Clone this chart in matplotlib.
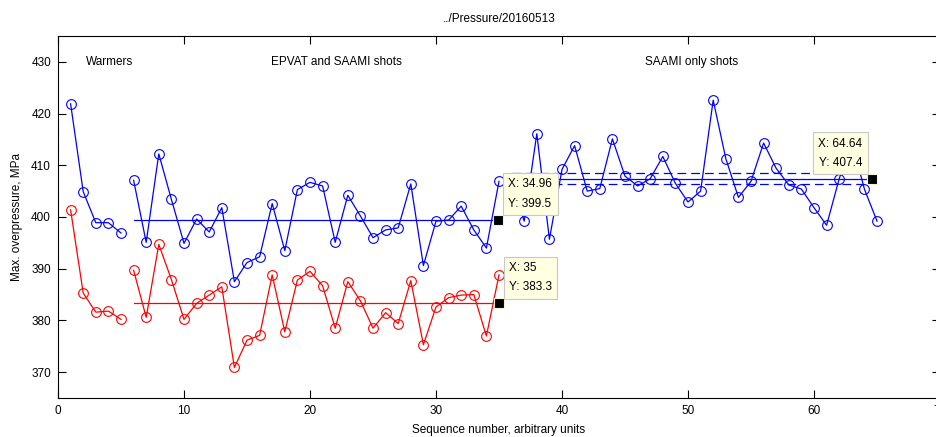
import numpy as np
import matplotlib
matplotlib.use("Agg")
import matplotlib.pyplot as plt

plt.rcParams['font.family'] = ['Liberation Sans Narrow', 'Liberation Sans', 'DejaVu Sans']

# warm-up shots
warm_x = [1, 2, 3, 4, 5]
warm_blue = [421.9, 404.9, 398.9, 398.9, 396.9]
warm_red = [401.4, 385.3, 381.6, 381.8, 380.2]

# EPVAT and SAAMI shots
epvat_x = list(range(6, 36))
epvat_blue = [407.1, 395.1, 412.2, 403.4, 394.9, 399.6, 397.1, 401.8, 387.5, 391.2,
              392.3, 402.6, 393.5, 405.3, 406.7, 406.0, 395.1, 404.2, 400.2, 396.0,
              397.5, 397.9, 406.4, 390.6, 399.2, 399.4, 402.1, 397.5, 394.0, 406.9]
epvat_red = [389.7, 380.6, 394.7, 387.9, 380.2, 383.3, 384.9, 386.5, 370.9, 376.2,
             377.1, 388.8, 377.8, 387.8, 389.5, 386.7, 378.5, 387.5, 383.8, 378.5,
             381.5, 379.4, 387.7, 375.3, 382.6, 384.4, 384.9, 385.0, 377.0, 388.8]

# SAAMI only shots
saami_x = list(range(36, 66))
saami_blue = [406.8, 399.2, 416.1, 395.7, 409.2, 413.8, 405.0, 405.5, 415.1, 407.9,
              406.0, 407.4, 411.7, 406.5, 402.9, 405.0, 422.6, 411.3, 403.8, 406.9,
              414.3, 409.4, 406.2, 405.4, 401.8, 398.4, 407.4, 414.6, 405.4, 399.2]

# mean levels (data tips) and band around the SAAMI mean
epvat_blue_mean = (6, 34.96, 399.5)
epvat_red_mean = (6, 35, 383.3)
saami_mean = (36, 64.64, 407.4)
saami_band = (406.3, 408.5)

fig = plt.figure(figsize=(9.37, 4.37), dpi=100)
ax = fig.add_axes([58 / 937, 39 / 437, 882 / 937, 362 / 437])

mk = dict(marker='o', markersize=7, markerfacecolor='none', markeredgewidth=0.8, lw=0.9)
for xs, ys, c in [(warm_x, warm_blue, 'b'), (warm_x, warm_red, 'r'),
                  (epvat_x, epvat_blue, 'b'), (epvat_x, epvat_red, 'r'),
                  (saami_x, saami_blue, 'b')]:
    ax.plot(xs, ys, color=c, markeredgecolor=c, **mk)

for (x0, x1, y), c in [(epvat_blue_mean, 'b'), (epvat_red_mean, 'r'), (saami_mean, 'b')]:
    ax.plot([x0, x1], [y, y], color=c, lw=0.9)
for y in saami_band:
    ax.plot([saami_mean[0], 64], [y, y], color='b', lw=0.9, ls=(0, (7, 4)))


def datatip(x, y, side):
    ax.plot([x], [y], marker='s', markersize=6.5, color='k',
            markeredgecolor='#f4f4d0', markeredgewidth=0.8, zorder=10)
    ha = 'left' if side > 0 else 'right'
    ax.annotate(f"X: {x:g}\nY: {y:g}", xy=(x, y), xytext=(10 * side, 10),
                textcoords='offset pixels', ha=ha, va='bottom', fontsize=8.5,
                linespacing=1.8, zorder=11,
                bbox=dict(boxstyle='square,pad=0.45', fc='#ffffe1', ec='#c8c8c8', lw=0.8))


datatip(epvat_blue_mean[1], epvat_blue_mean[2], 1)
datatip(epvat_red_mean[1], epvat_red_mean[2], 1)
datatip(saami_mean[1], saami_mean[2], -1)

ax.text(4.1, 430, 'Warmers', ha='center', va='center', fontsize=8.5)
ax.text(22.1, 430, 'EPVAT and SAAMI shots', ha='center', va='center', fontsize=8.5)
ax.text(50.3, 430, 'SAAMI only shots', ha='center', va='center', fontsize=8.5)

ax.set_xlim(0, 70)
ax.set_ylim(365, 435)
ax.set_xticks(np.arange(0, 71, 10))
ax.set_yticks(np.arange(370, 431, 10))
ax.tick_params(direction='in', length=6, width=0.8, top=True, right=True,
               labelsize=8.5, pad=5)
for s in ax.spines.values():
    s.set_linewidth(0.8)

ax.set_title('../Pressure/20160513', fontsize=8.5, pad=10)
ax.set_xlabel('Sequence number, arbitrary units', fontsize=8.5, labelpad=5)
ax.set_ylabel('Max. overpressure, MPa', fontsize=8.5, labelpad=6)

fig.savefig('out.png', dpi=100)
